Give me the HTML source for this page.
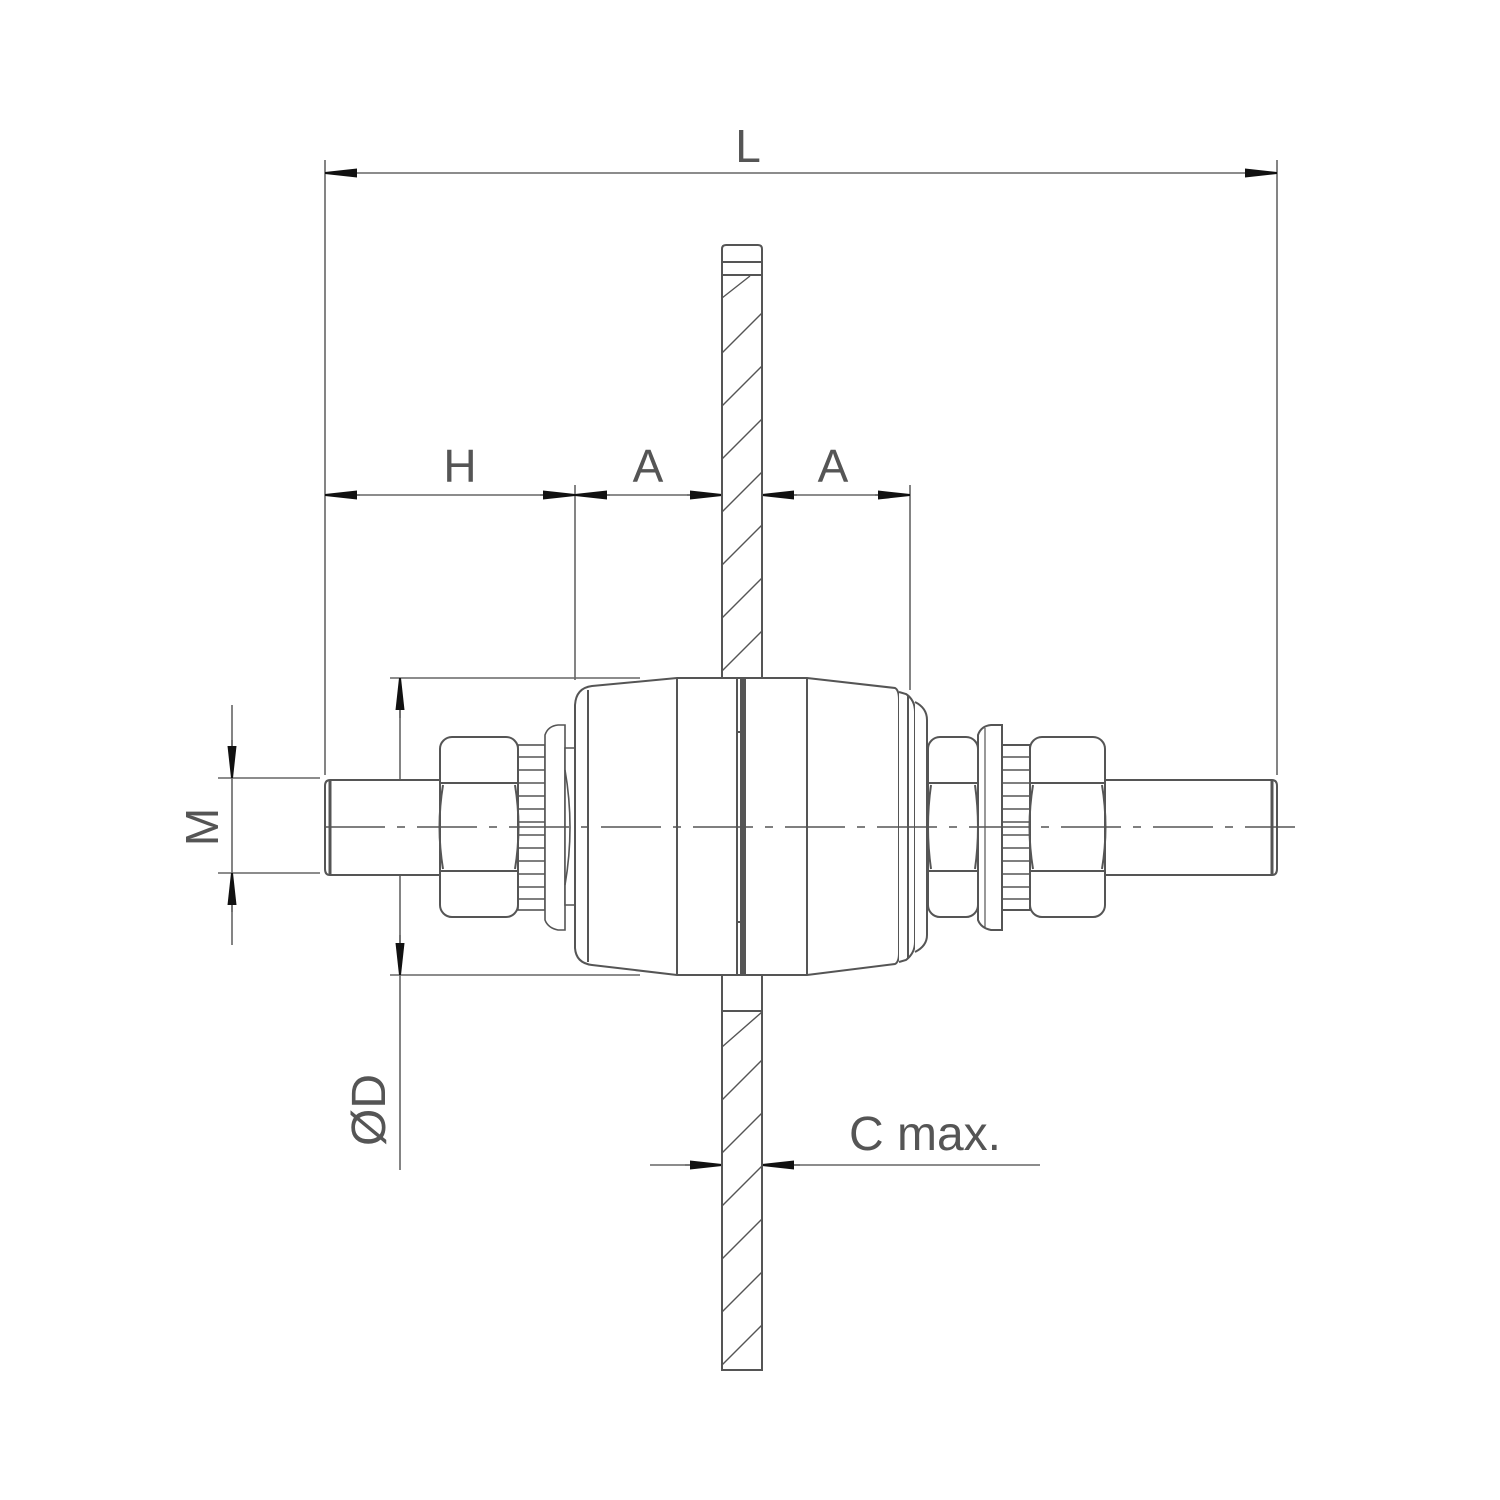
<!DOCTYPE html>
<html><head><meta charset="utf-8"><style>
html,body{margin:0;padding:0;background:#fff;}
svg{display:block}
text{font-family:"Liberation Sans",sans-serif;fill:#555;}
</style></head><body>
<svg width="1500" height="1500" viewBox="0 0 1500 1500" xmlns="http://www.w3.org/2000/svg">
<defs>
<marker id="ar" viewBox="0 0 32 12" refX="32" refY="6" markerWidth="32" markerHeight="12" markerUnits="userSpaceOnUse" orient="auto">
<path d="M0,1.5 L32,5 L32,7 L0,10.5 Q-2,6 0,1.5 Z" fill="#111"/>
</marker>
</defs>
<g stroke="#666" stroke-width="1.6" fill="none">
<!-- L dimension -->
<line x1="325" y1="160" x2="325" y2="775"/>
<line x1="1277" y1="160" x2="1277" y2="775"/>
<line x1="360" y1="173" x2="325" y2="173" marker-end="url(#ar)"/>
<line x1="360" y1="173" x2="1242" y2="173"/>
<line x1="1242" y1="173" x2="1277" y2="173" marker-end="url(#ar)"/>
<!-- H/A -->
<line x1="575" y1="485" x2="575" y2="680"/>
<line x1="910" y1="485" x2="910" y2="690"/>
<line x1="325" y1="495" x2="910" y2="495"/>
<line x1="360" y1="495" x2="325" y2="495" marker-end="url(#ar)"/>
<line x1="540" y1="495" x2="575" y2="495" marker-end="url(#ar)"/>
<line x1="610" y1="495" x2="575" y2="495" marker-end="url(#ar)"/>
<line x1="687" y1="495" x2="722" y2="495" marker-end="url(#ar)"/>
<line x1="797" y1="495" x2="762" y2="495" marker-end="url(#ar)"/>
<line x1="875" y1="495" x2="910" y2="495" marker-end="url(#ar)"/>
<!-- M -->
<line x1="232" y1="705" x2="232" y2="945"/>
<line x1="218" y1="778" x2="320" y2="778"/>
<line x1="218" y1="873" x2="320" y2="873"/>
<line x1="232" y1="740" x2="232" y2="778" marker-end="url(#ar)"/>
<line x1="232" y1="912" x2="232" y2="873" marker-end="url(#ar)"/>
<!-- D -->
<line x1="400" y1="678" x2="400" y2="1170"/>
<line x1="390" y1="678" x2="640" y2="678"/>
<line x1="390" y1="975" x2="640" y2="975"/>
<line x1="400" y1="718" x2="400" y2="678" marker-end="url(#ar)"/>
<line x1="400" y1="935" x2="400" y2="975" marker-end="url(#ar)"/>
<!-- C max -->
<line x1="650" y1="1165" x2="1040" y2="1165"/>
<line x1="685" y1="1165" x2="722" y2="1165" marker-end="url(#ar)"/>
<line x1="800" y1="1165" x2="762" y2="1165" marker-end="url(#ar)"/>
</g>
<g stroke="#555" stroke-width="2" fill="#fff">
<!-- plate -->
<path d="M722,678 L722,249 Q722,245 726,245 L758,245 Q762,245 762,249 L762,678"/>
<line x1="722" y1="262" x2="762" y2="262"/>
<line x1="722" y1="275" x2="762" y2="275"/>
<path d="M722,975 L722,1370 L762,1370 L762,975" />
<line x1="722" y1="1011" x2="762" y2="1011"/>
<g stroke-width="1.4">
<line x1="722" y1="298" x2="750" y2="276"/>
<line x1="722" y1="353" x2="762" y2="313"/>
<line x1="722" y1="406" x2="762" y2="366"/>
<line x1="722" y1="459" x2="762" y2="419"/>
<line x1="722" y1="512" x2="762" y2="472"/>
<line x1="722" y1="565" x2="762" y2="525"/>
<line x1="722" y1="618" x2="762" y2="578"/>
<line x1="722" y1="671" x2="762" y2="631"/>
<line x1="722" y1="1047" x2="762" y2="1012"/>
<line x1="722" y1="1100" x2="762" y2="1060"/>
<line x1="722" y1="1153" x2="762" y2="1113"/>
<line x1="722" y1="1206" x2="762" y2="1166"/>
<line x1="722" y1="1259" x2="762" y2="1219"/>
<line x1="722" y1="1312" x2="762" y2="1272"/>
<line x1="722" y1="1365" x2="762" y2="1325"/>
</g>
<!-- studs -->
<path d="M443,780 L330,780 Q325,780 325,786 L325,869 Q325,875 330,875 L443,875"/>
<line x1="330" y1="781" x2="330" y2="874" stroke-width="3"/>
<path d="M1105,780 L1272,780 Q1277,780 1277,786 L1277,869 Q1277,875 1272,875 L1105,875"/>
<line x1="1272" y1="781" x2="1272" y2="874" stroke-width="3"/>
<!-- left washer parts -->
<g stroke-width="1.6">
<rect x="518" y="745" width="27" height="165"/>
<path d="M545,735 Q548,726 558,725 L565,725 L565,930 L558,930 Q548,928 545,920 Z"/>
<path d="M565,748 L577,748 L577,905 L565,905 Z"/>
<path d="M565,770 Q575,827 565,885" fill="none"/>
</g>
<g stroke-width="1.4">
<line x1="518" y1="757" x2="545" y2="757"/><line x1="518" y1="770" x2="545" y2="770"/>
<line x1="518" y1="783" x2="545" y2="783"/><line x1="518" y1="796" x2="545" y2="796"/>
<line x1="518" y1="809" x2="545" y2="809"/><line x1="518" y1="822" x2="545" y2="822"/>
<line x1="518" y1="835" x2="545" y2="835"/><line x1="518" y1="848" x2="545" y2="848"/>
<line x1="518" y1="861" x2="545" y2="861"/><line x1="518" y1="874" x2="545" y2="874"/>
<line x1="518" y1="887" x2="545" y2="887"/><line x1="518" y1="899" x2="545" y2="899"/>
</g>
<!-- left nut -->
<rect x="440" y="737" width="78" height="180" rx="12"/>
<line x1="440" y1="783" x2="518" y2="783"/><line x1="440" y1="871" x2="518" y2="871"/>
<path d="M443,785 Q436,827 443,869 M515,785 Q522,827 515,869" fill="none"/>
<!-- body -->
<path d="M741,678 L677,678 L592,686 Q576,688 575,705 L575,948 Q576,963 592,965 L677,975 L741,975 Z"/>
<line x1="588" y1="690" x2="588" y2="962"/>
<line x1="677" y1="678" x2="677" y2="975"/>
<line x1="737" y1="678" x2="737" y2="975"/>
<path d="M743,678 L807,678 L895,688 Q899,690 899,700 L899,953 Q899,962 895,964 L807,975 L743,975 Z"/>
<line x1="745" y1="678" x2="745" y2="975"/>
<line x1="807" y1="678" x2="807" y2="975"/>
<line x1="737" y1="732" x2="745" y2="732"/><line x1="737" y1="922" x2="745" y2="922"/>
<path d="M899,692 L906,694 Q915,700 915,712 L915,942 Q915,953 906,960 L899,962"/>
<path d="M915,702 Q927,708 927,720 L927,935 Q927,946 915,952"/>
<line x1="908" y1="695" x2="908" y2="958"/>
<!-- right side -->
<rect x="928" y="737" width="50" height="180" rx="12"/>
<line x1="928" y1="783" x2="978" y2="783"/><line x1="928" y1="871" x2="978" y2="871"/>
<path d="M931,785 Q925,827 931,869 M975,785 Q981,827 975,869" fill="none"/>
<path d="M978,735 Q981,726 991,725 L1002,725 L1002,930 L991,930 Q981,928 978,920 Z"/>
<line x1="985" y1="728" x2="985" y2="928" stroke-width="1.2"/>
<rect x="1002" y="745" width="28" height="165"/>
<g stroke-width="1.4">
<line x1="1002" y1="757" x2="1030" y2="757"/><line x1="1002" y1="770" x2="1030" y2="770"/>
<line x1="1002" y1="783" x2="1030" y2="783"/><line x1="1002" y1="796" x2="1030" y2="796"/>
<line x1="1002" y1="809" x2="1030" y2="809"/><line x1="1002" y1="822" x2="1030" y2="822"/>
<line x1="1002" y1="835" x2="1030" y2="835"/><line x1="1002" y1="848" x2="1030" y2="848"/>
<line x1="1002" y1="861" x2="1030" y2="861"/><line x1="1002" y1="874" x2="1030" y2="874"/>
<line x1="1002" y1="887" x2="1030" y2="887"/><line x1="1002" y1="899" x2="1030" y2="899"/>
</g>
<rect x="1030" y="737" width="75" height="180" rx="12"/>
<line x1="1030" y1="783" x2="1105" y2="783"/><line x1="1030" y1="871" x2="1105" y2="871"/>
<path d="M1033,785 Q1026,827 1033,869 M1102,785 Q1109,827 1102,869" fill="none"/>
</g>
<!-- center line -->
<line x1="325" y1="827" x2="1295" y2="827" stroke="#555" stroke-width="1.4" stroke-dasharray="60,12,8,12"/>
<!-- labels -->
<text x="748" y="162" font-size="46" text-anchor="middle">L</text>
<text x="460" y="482" font-size="46" text-anchor="middle">H</text>
<text x="648" y="482" font-size="46" text-anchor="middle">A</text>
<text x="833" y="482" font-size="46" text-anchor="middle">A</text>
<text x="925" y="1150" font-size="48" text-anchor="middle">C max.</text>
<text transform="translate(218,827) rotate(-90)" font-size="46" text-anchor="middle">M</text>
<text transform="translate(385,1110) rotate(-90)" font-size="48" text-anchor="middle">ØD</text>
</svg>
</body></html>
